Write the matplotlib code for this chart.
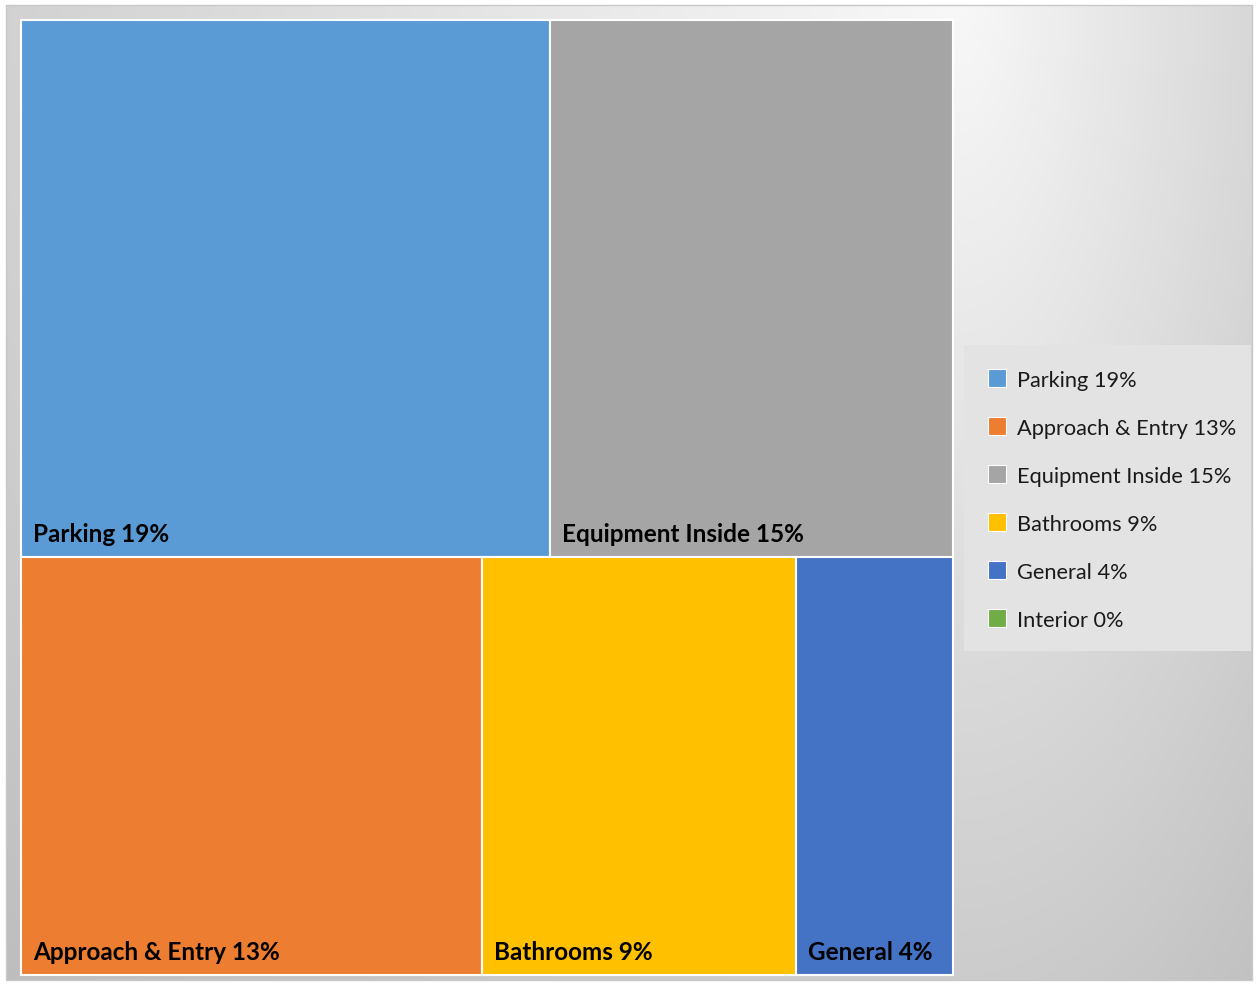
import numpy as np
import matplotlib
matplotlib.use("Agg")
import matplotlib.pyplot as plt
from matplotlib.patches import Rectangle

plt.rcParams['font.family'] = ['Lato', 'DejaVu Sans']

# datos del treemap (porcentajes)
categorias = ['Parking', 'Approach & Entry', 'Equipment Inside', 'Bathrooms', 'General', 'Interior']
valores = [19.0, 12.9, 14.5, 8.8, 4.4, 0.0]
etiquetas = ['Parking 19%', 'Approach & Entry 13%', 'Equipment Inside 15%',
             'Bathrooms 9%', 'General 4%', 'Interior 0%']
colores = ['#5B9BD5', '#ED7D31', '#A5A5A5', '#FFC000', '#4472C4', '#70AD47']


def peor(fila, lado):
    s = sum(fila)
    return max(max(lado * lado * r / (s * s), (s * s) / (lado * lado * r)) for r in fila)


def squarify(areas, x, y, w, h):
    """Algoritmo squarified, y crece hacia abajo"""
    rects = []
    vals = list(areas)
    while vals:
        lado = min(w, h)
        fila = [vals[0]]
        i = 1
        while i < len(vals) and peor(fila + [vals[i]], lado) <= peor(fila, lado):
            fila.append(vals[i])
            i += 1
        s = sum(fila)
        if w >= h:
            cw = s / h
            yy = y
            for a in fila:
                rh = a / cw
                rects.append((x, yy, cw, rh))
                yy += rh
            x += cw
            w -= cw
        else:
            rh = s / w
            xx = x
            for a in fila:
                rw = a / rh
                rects.append((xx, y, rw, rh))
                xx += rw
            y += rh
            h -= rh
        vals = vals[i:]
    return rects


W, H = 1258, 987
fig = plt.figure(figsize=(W / 100, H / 100), dpi=100)
ax = fig.add_axes([0, 0, 1, 1])
ax.set_xlim(0, W)
ax.set_ylim(H, 0)
ax.axis('off')

# fondo con degradado
fx0, fy0, fx1, fy1 = 6, 6, 1252, 981
xs = np.linspace(fx0, fx1, 400)
ys = np.linspace(fy0, fy1, 320)
XX, YY = np.meshgrid(xs, ys)
dh = np.where(XX < 960, 0.04 * (960 - XX), 0.11 * (XX - 960))
dv = 0.045 * YY
val = (248 - np.sqrt(dh ** 2 + dv ** 2)) / 255.0
img = np.dstack([val, val, val])
ax.imshow(img, extent=(fx0, fx1, fy1, fy0), aspect='auto', zorder=0, interpolation='bilinear')
ax.add_patch(Rectangle((fx0, fy0), fx1 - fx0, fy1 - fy0, fill=False,
                       edgecolor='#c8c8c8', linewidth=1.0, zorder=1))

# treemap
tx, ty, tw, th = 21, 21, 932, 955
idx = [i for i in np.argsort(valores)[::-1] if valores[i] > 0]
total = sum(valores[i] for i in idx)
areas = [valores[i] / total * tw * th for i in idx]
rects = squarify(areas, tx, ty, tw, th)

for i, (rx, ry, rw, rh) in zip(idx, rects):
    ax.add_patch(Rectangle((rx, ry), rw, rh, facecolor=colores[i],
                           edgecolor='white', linewidth=1.5, zorder=2))
    ax.text(rx + 12, ry + rh - 16, etiquetas[i], fontsize=17.5, fontweight='bold',
            color='black', ha='left', va='baseline', zorder=3)

# leyenda
lx, ly, lw, lh = 964, 346, 287, 306
ax.add_patch(Rectangle((lx, ly), lw, lh, facecolor='#e3e3e3', edgecolor='none', zorder=2))
for k, (lab, col) in enumerate(zip(etiquetas, colores)):
    cy = 379 + 48 * k
    ax.add_patch(Rectangle((988, cy - 9), 18, 18, facecolor=col, edgecolor='white',
                           linewidth=0.8, zorder=3))
    ax.text(1017, cy + 8, lab, fontsize=15.7, color='#1a1a1a', ha='left',
            va='baseline', zorder=3)

fig.savefig('out.png', dpi=100, facecolor='white')
